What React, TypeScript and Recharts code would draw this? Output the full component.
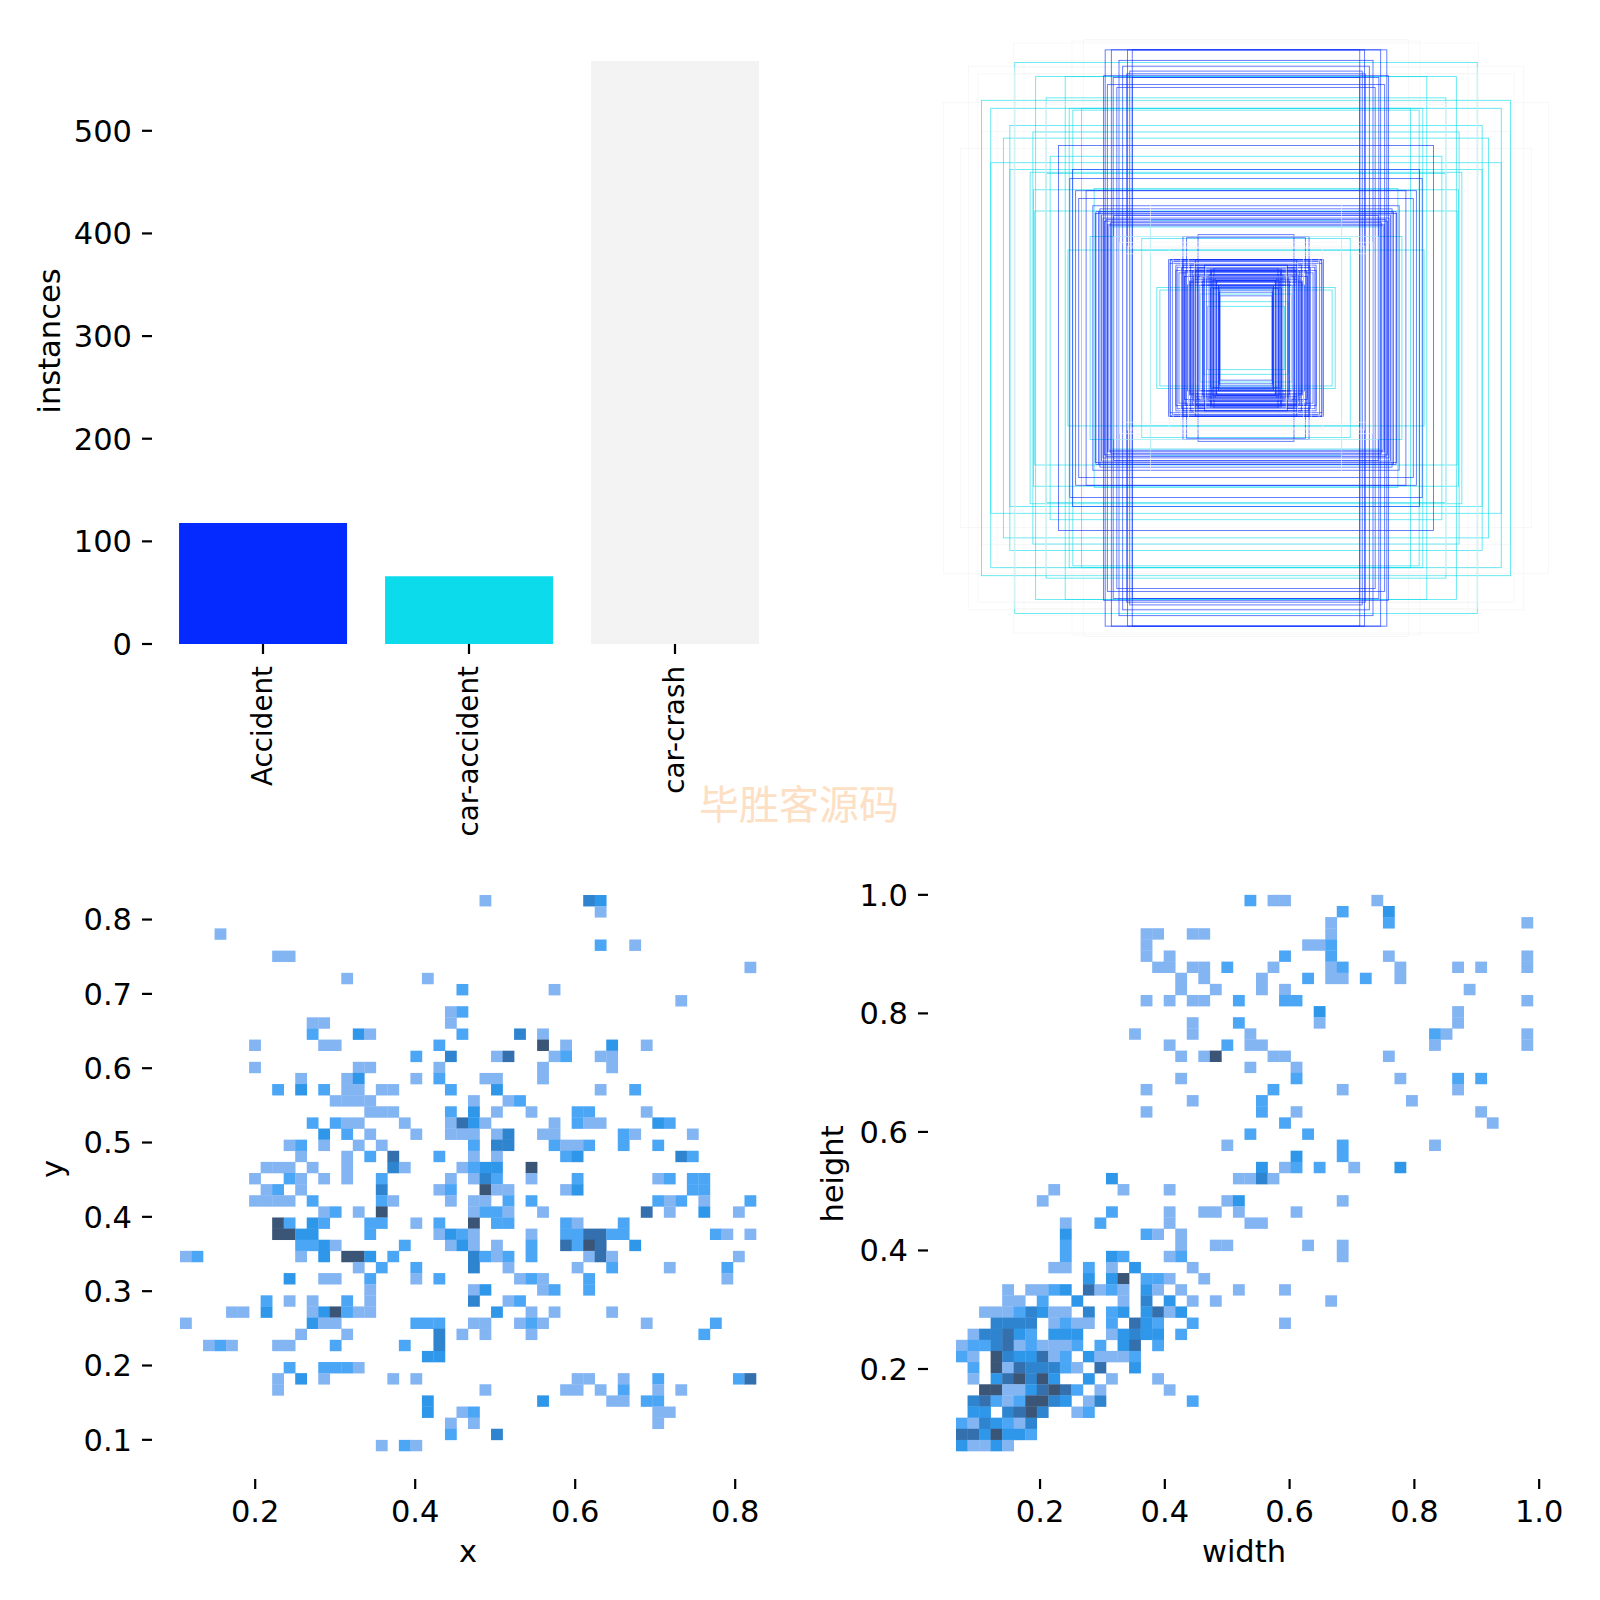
import {
  Bar,
  BarChart,
  Cell,
  Scatter,
  ScatterChart,
  XAxis,
  YAxis,
} from 'recharts';

/* ------------------------------------------------------------------ */
/* Data                                                                */
/* ------------------------------------------------------------------ */

const classNames = ['Accident', 'car-accident', 'car-crash'];
const classCounts = [118, 66, 568];
const classColors = ['#042AFF', '#0BDBEB', '#F3F3F3'];
const countTicks = [0, 100, 200, 300, 400, 500];

// [width, height] of each label box, as a fraction of the image
const cyanBoxes = [
  [0.86, 0.773], [0.83, 0.57], [0.83, 0.747], [0.768, 0.691], [0.789, 0.65], [0.768, 0.548],
  [0.693, 0.67], [0.684, 0.85], [0.588, 0.85], [0.637, 0.591], [0.702, 0.539], [0.691, 0.482],
  [0.687, 0.413], [0.65, 0.535], [0.575, 0.747], [0.563, 0.741], [0.535, 0.747], [0.752, 0.896],
  [0.65, 0.781], [0.507, 0.33], [0.494, 0.486], [0.311, 0.383], [0.339, 0.324], [0.579, 0.286],
  [0.29, 0.164], [0.28, 0.156], [0.149, 0.143], [0.125, 0.103], [0.374, 0.286], [0.436, 0.361],
  [0.137, 0.118],
];
const blueBoxes = [
  [0.458, 0.937], [0.438, 0.937], [0.385, 0.937], [0.37, 0.937], [0.413, 0.903], [0.401, 0.884],
  [0.378, 0.868], [0.463, 0.853], [0.432, 0.847], [0.451, 0.824], [0.42, 0.815], [0.37, 0.847],
  [0.388, 0.859], [0.61, 0.626], [0.564, 0.548], [0.573, 0.519], [0.554, 0.479], [0.544, 0.454],
  [0.52, 0.479], [0.488, 0.411], [0.498, 0.43], [0.43, 0.398], [0.446, 0.365], [0.47, 0.4],
  [0.46, 0.38], [0.45, 0.37], [0.475, 0.42], [0.48, 0.41], [0.49, 0.405], [0.465, 0.39],
  [0.455, 0.385], [0.44, 0.375], [0.156, 0.336], [0.205, 0.33], [0.193, 0.326],
  [0.251, 0.255], [0.239, 0.249], [0.205, 0.237], [0.199, 0.218], [0.187, 0.205], [0.167, 0.224],
  [0.158, 0.199], [0.139, 0.199], [0.115, 0.224], [0.108, 0.187], [0.096, 0.187], [0.087, 0.149],
  [0.249, 0.243], [0.224, 0.23], [0.218, 0.212], [0.181, 0.181], [0.106, 0.162], [0.09, 0.168],
  [0.085, 0.137], [0.175, 0.215], [0.17, 0.19], [0.2, 0.2], [0.107, 0.205], [0.1, 0.195],
  [0.095, 0.185], [0.09, 0.172], [0.087, 0.163], [0.085, 0.156], [0.104, 0.228], [0.112, 0.218],
  [0.12, 0.205], [0.128, 0.195], [0.135, 0.237], [0.142, 0.185], [0.15, 0.172], [0.115, 0.163],
  [0.156, 0.228], [0.163, 0.218], [0.17, 0.205], [0.176, 0.195], [0.18, 0.237], [0.184, 0.185],
  [0.19, 0.172], [0.196, 0.218], [0.205, 0.254], [0.21, 0.228], [0.228, 0.237], [0.245, 0.254],
  [0.25, 0.254], [0.228, 0.22], [0.165, 0.254], [0.14, 0.172],
];
const grayOuterBoxes = [
  [0.984, 0.766], [0.928, 0.616], [0.903, 0.884], [0.872, 0.859], [0.756, 0.959], [0.722, 0.903],
  [0.566, 0.965], [0.529, 0.971], [0.859, 0.672], [0.809, 0.747],
];
// drawn over the cyan sides that the reference does not show
const grayMidBoxes = [
  [0.752, 0.88], [0.752, 0.86], [0.65, 0.77], [0.65, 0.76],
];
const grayInnerBoxes = [
  [0.43, 0.33], [0.411, 0.311], [0.374, 0.293], [0.398, 0.274], [0.386, 0.299], [0.361, 0.28],
  [0.311, 0.436], [0.249, 0.293], [0.212, 0.28], [0.187, 0.261], [0.168, 0.243], [0.131, 0.23],
  [0.237, 0.268], [0.149, 0.199],
];

// 2D histograms: one list per bin row (top to bottom) of [column, count]
const xyRows = [
  [[26, 1], [35, 4], [36, 3]],
  [[36, 1]],
  [],
  [[3, 1]],
  [[36, 2], [39, 1]],
  [[8, 1], [9, 1]],
  [[49, 1]],
  [[14, 1], [21, 1]],
  [[24, 2], [32, 1]],
  [[43, 1]],
  [[23, 1], [24, 2]],
  [[11, 1], [12, 1], [23, 1]],
  [[11, 2], [15, 3], [16, 1], [24, 2], [29, 4], [31, 1]],
  [[6, 1], [12, 1], [13, 1], [22, 2], [31, 6], [33, 1], [37, 3], [40, 1]],
  [[20, 2], [23, 4], [27, 1], [28, 5], [32, 1], [33, 2], [36, 1], [37, 1]],
  [[6, 1], [15, 1], [16, 1], [22, 1], [31, 1], [37, 1]],
  [[10, 1], [14, 1], [15, 3], [20, 1], [22, 2], [26, 1], [27, 1], [31, 1]],
  [[8, 2], [10, 3], [12, 2], [14, 1], [15, 1], [17, 1], [18, 1], [23, 2], [27, 3], [36, 1], [39, 2]],
  [[13, 1], [14, 1], [15, 1], [16, 1], [25, 1], [28, 1], [29, 2]],
  [[16, 1], [17, 1], [18, 1], [23, 2], [25, 3], [27, 1], [30, 1], [34, 2], [35, 2], [40, 1]],
  [[11, 2], [13, 2], [14, 1], [15, 1], [19, 1], [23, 1], [24, 5], [25, 3], [26, 1], [32, 1], [34, 2], [35, 1], [36, 1], [41, 3], [42, 2]],
  [[12, 3], [14, 2], [16, 1], [20, 1], [23, 1], [24, 1], [25, 1], [27, 1], [28, 4], [31, 1], [32, 1], [38, 2], [39, 1], [44, 1]],
  [[9, 1], [10, 2], [12, 1], [15, 1], [17, 1], [25, 2], [27, 4], [28, 4], [32, 2], [33, 1], [34, 1], [35, 2], [38, 2], [41, 2]],
  [[10, 1], [14, 1], [16, 2], [18, 5], [22, 2], [25, 1], [27, 1], [33, 2], [34, 3], [43, 4], [44, 2]],
  [[7, 1], [8, 1], [9, 1], [11, 1], [14, 1], [18, 4], [19, 1], [24, 1], [25, 2], [26, 3], [27, 3], [30, 6]],
  [[6, 1], [9, 2], [10, 1], [12, 1], [14, 1], [17, 2], [23, 1], [25, 1], [26, 4], [27, 2], [30, 1], [34, 2], [41, 1], [42, 2], [44, 2], [45, 2]],
  [[7, 1], [8, 2], [10, 1], [17, 4], [22, 1], [23, 2], [26, 6], [27, 1], [28, 1], [33, 1], [34, 3], [44, 2], [45, 2]],
  [[6, 1], [7, 1], [8, 1], [9, 1], [11, 2], [17, 2], [18, 1], [23, 1], [25, 1], [26, 1], [28, 2], [30, 2], [41, 2], [42, 1], [43, 2], [45, 1], [49, 2]],
  [[12, 1], [13, 2], [15, 1], [17, 6], [25, 1], [26, 2], [27, 2], [28, 1], [31, 1], [40, 5], [42, 1], [45, 3], [48, 1]],
  [[8, 6], [9, 2], [11, 3], [12, 2], [16, 2], [17, 2], [20, 1], [22, 2], [25, 6], [27, 2], [28, 2], [33, 2], [34, 1], [38, 2]],
  [[8, 6], [9, 6], [10, 3], [11, 3], [16, 2], [22, 1], [23, 3], [24, 2], [25, 1], [30, 1], [33, 2], [34, 2], [35, 5], [36, 5], [37, 2], [38, 2], [46, 2], [47, 1], [49, 1]],
  [[10, 2], [11, 2], [12, 3], [13, 1], [19, 2], [23, 1], [24, 3], [25, 1], [27, 1], [30, 2], [33, 5], [34, 2], [35, 6], [36, 5], [39, 3]],
  [[0, 1], [1, 2], [10, 1], [12, 3], [14, 6], [15, 6], [16, 3], [18, 2], [25, 4], [26, 2], [27, 1], [28, 2], [30, 2], [35, 1], [36, 5], [37, 1], [48, 1]],
  [[15, 1], [17, 2], [20, 2], [25, 4], [28, 1], [34, 1], [37, 2], [42, 1], [47, 2]],
  [[9, 3], [12, 1], [13, 1], [16, 2], [20, 1], [22, 2], [29, 1], [30, 2], [31, 1], [35, 2], [47, 1]],
  [[16, 1], [25, 1], [26, 3], [31, 1], [32, 2], [35, 2]],
  [[7, 2], [9, 1], [11, 1], [14, 2], [16, 1], [25, 4], [28, 1], [29, 2]],
  [[4, 1], [5, 1], [7, 3], [11, 1], [12, 3], [13, 6], [14, 2], [15, 1], [16, 1], [27, 3], [30, 1], [32, 1], [37, 1]],
  [[0, 1], [11, 3], [12, 1], [13, 1], [20, 2], [21, 2], [22, 2], [25, 1], [26, 1], [29, 1], [30, 2], [31, 1], [40, 1], [46, 2]],
  [[10, 1], [14, 1], [22, 4], [24, 1], [26, 1], [30, 1], [45, 2]],
  [[2, 1], [3, 2], [4, 1], [8, 1], [9, 1], [13, 2], [19, 2], [22, 4]],
  [[21, 3], [22, 3]],
  [[9, 2], [12, 2], [13, 2], [14, 2], [15, 1]],
  [[8, 1], [10, 3], [12, 1], [18, 1], [20, 1], [34, 1], [35, 1], [38, 1], [41, 2], [48, 2], [49, 5]],
  [[8, 1], [26, 1], [33, 1], [34, 1], [36, 1], [38, 2], [41, 1], [43, 1]],
  [[21, 3], [31, 3], [37, 1], [38, 1], [40, 2], [41, 2]],
  [[21, 3], [24, 1], [25, 2], [41, 1], [42, 1]],
  [[23, 1], [25, 1], [41, 1]],
  [[23, 2], [27, 4]],
  [[17, 1], [19, 2], [20, 1]],
];

const whRows = [
  [[25, 2], [27, 1], [28, 1], [36, 1]],
  [[33, 2], [37, 3]],
  [[32, 1], [37, 2], [49, 1]],
  [[16, 1], [17, 1], [20, 1], [21, 1], [32, 1]],
  [[16, 1], [30, 1], [31, 1], [32, 2]],
  [[16, 1], [18, 1], [28, 2], [32, 2], [37, 1], [49, 1]],
  [[17, 1], [18, 1], [20, 1], [21, 1], [23, 2], [27, 1], [32, 1], [33, 2], [38, 1], [43, 1], [45, 1], [49, 1]],
  [[19, 1], [21, 1], [26, 1], [30, 2], [32, 1], [33, 1], [35, 2], [38, 1]],
  [[19, 1], [22, 1], [26, 1], [28, 1], [44, 1]],
  [[16, 1], [18, 1], [20, 1], [21, 1], [24, 2], [28, 2], [29, 2], [49, 1]],
  [[31, 3], [43, 1]],
  [[20, 1], [24, 2], [31, 1], [43, 1]],
  [[15, 1], [20, 1], [25, 1], [41, 2], [42, 1], [49, 1]],
  [[18, 1], [23, 2], [25, 1], [26, 1], [41, 1], [49, 1]],
  [[19, 1], [21, 1], [22, 6], [27, 1], [28, 1], [37, 1]],
  [[25, 1], [29, 1]],
  [[19, 1], [29, 2], [38, 1], [43, 2], [45, 2]],
  [[16, 1], [27, 2], [33, 1], [43, 1]],
  [[20, 1], [26, 2], [39, 1]],
  [[16, 1], [26, 2], [29, 1], [45, 1]],
  [[28, 2], [46, 1]],
  [[25, 2], [30, 2]],
  [[23, 1], [33, 2], [41, 1]],
  [[29, 3], [33, 2]],
  [[26, 3], [28, 1], [29, 2], [31, 2], [34, 1], [38, 3]],
  [[13, 3], [24, 1], [25, 1], [26, 4], [27, 1]],
  [[8, 1], [14, 1], [18, 1]],
  [[7, 1], [23, 1], [24, 3], [33, 1]],
  [[13, 2], [18, 1], [21, 1], [22, 1], [24, 1], [29, 1]],
  [[9, 1], [12, 2], [18, 1], [25, 1], [26, 1]],
  [[9, 3], [16, 2], [17, 1], [19, 1]],
  [[9, 2], [19, 1], [22, 1], [23, 1], [30, 1], [33, 1]],
  [[9, 2], [13, 3], [14, 2], [18, 1], [19, 2], [33, 1]],
  [[8, 1], [9, 1], [11, 2], [13, 1], [15, 3], [20, 1]],
  [[11, 3], [13, 3], [14, 6], [16, 2], [17, 2], [18, 1], [21, 1]],
  [[4, 1], [6, 1], [7, 1], [8, 2], [9, 3], [11, 5], [12, 1], [13, 2], [14, 1], [16, 3], [17, 1], [19, 1], [24, 1], [28, 1]],
  [[4, 1], [5, 1], [7, 2], [10, 3], [14, 1], [16, 4], [18, 3], [20, 1], [22, 1], [32, 1]],
  [[2, 1], [3, 1], [4, 1], [5, 2], [6, 4], [7, 3], [8, 1], [9, 1], [11, 4], [13, 2], [14, 3], [16, 3], [17, 5], [18, 1], [19, 3]],
  [[3, 4], [4, 4], [5, 4], [6, 4], [8, 1], [9, 2], [10, 1], [11, 1], [13, 2], [15, 5], [16, 3], [17, 2], [20, 2], [28, 1]],
  [[1, 1], [2, 4], [3, 4], [4, 5], [5, 3], [6, 2], [8, 3], [9, 3], [10, 3], [13, 1], [14, 3], [15, 4], [16, 3], [17, 3], [19, 2]],
  [[0, 1], [1, 2], [2, 2], [3, 4], [4, 5], [5, 1], [6, 2], [7, 1], [8, 1], [9, 1], [10, 2], [12, 2], [14, 3], [15, 5], [17, 2]],
  [[0, 2], [1, 1], [3, 6], [4, 4], [5, 3], [6, 3], [7, 5], [8, 1], [9, 2], [11, 3], [12, 1], [13, 1], [14, 1], [15, 2]],
  [[1, 2], [3, 6], [4, 1], [5, 5], [6, 4], [7, 4], [8, 4], [9, 2], [10, 1], [12, 5], [15, 3]],
  [[1, 1], [3, 3], [4, 5], [5, 6], [6, 4], [7, 6], [8, 3], [11, 3], [13, 1], [17, 1]],
  [[2, 6], [3, 6], [4, 1], [5, 1], [6, 3], [7, 5], [8, 6], [9, 5], [10, 2], [12, 1], [18, 1]],
  [[1, 4], [2, 5], [3, 2], [4, 1], [5, 2], [6, 6], [7, 6], [8, 4], [9, 3], [11, 1], [12, 4], [20, 2]],
  [[1, 3], [2, 3], [4, 4], [5, 5], [6, 6], [7, 4], [10, 1], [11, 2]],
  [[0, 2], [1, 1], [2, 4], [3, 3], [4, 2], [5, 1], [6, 4]],
  [[0, 5], [1, 5], [2, 3], [3, 6], [4, 3], [5, 3], [6, 2]],
  [[0, 3], [1, 1], [2, 1], [3, 3], [4, 1]],
];

// shade per bin count, index 0 unused
const countColors = ['#FFFFFF', '#84B5F3', '#4BA6F6', '#2F97E9', '#2E84CF', '#3470AE', '#3B5576'];

const xyBinsX = [0.106, 0.826];
const xyBinsY = [0.833, 0.085];
const whBinsX = [0.0653, 0.99];
const whBinsY = [1.0, 0.0616];

const xTicks = [0.2, 0.4, 0.6, 0.8];
const yTicks = [0.1, 0.2, 0.3, 0.4, 0.5, 0.6, 0.7, 0.8];
const widthTicks = [0.2, 0.4, 0.6, 0.8, 1.0];
const heightTicks = [0.2, 0.4, 0.6, 0.8, 1.0];

/* ------------------------------------------------------------------ */
/* Helpers                                                             */
/* ------------------------------------------------------------------ */

const FONT = '"DejaVu Sans", sans-serif';
const FONT_SIZE = 30.5;
const TICK = { fontSize: FONT_SIZE, fontFamily: FONT, fill: '#000' };
const TICK_LINE = { stroke: '#000', strokeWidth: 2.2 };
const BIN_COUNT = 50;
const HIST_W = 800;
const HIST_H = 760;
const HIST_TOP = 27;
const HIST_AXIS_H = 121;
const BOX_PLOT = 615;

const formatTick = (v: number) => v.toFixed(1);

// x, y are the text baseline middle in page coordinates
function AxisTitle({ x, y, text, vertical }: { x: number; y: number; text: string; vertical?: boolean }) {
  return (
    <text
      x={x}
      y={y}
      textAnchor="middle"
      fontSize={FONT_SIZE}
      fontFamily={FONT}
      fill="#000"
      transform={vertical ? `rotate(-90 ${x} ${y})` : undefined}
    >
      {text}
    </text>
  );
}

function ClassTick({ x, y, payload }: any) {
  return (
    <text
      transform={`translate(${x + 9} ${y}) rotate(-90)`}
      textAnchor="end"
      fontSize={27.8}
      fontFamily={FONT}
      fill="#000"
    >
      {payload.value}
    </text>
  );
}

function histCells(rows: number[][][], binsX: number[], binsY: number[]) {
  const stepX = (binsX[1] - binsX[0]) / BIN_COUNT;
  const stepY = (binsY[1] - binsY[0]) / BIN_COUNT;
  return rows.flatMap((row, r) =>
    row.map(([col, count]) => ({
      x: binsX[0] + (col + 0.5) * stepX,
      y: binsY[0] + (r + 0.5) * stepY,
      count,
    })),
  );
}

const toBoxes = (boxes: number[][]) => boxes.map(([w, h]) => ({ x: 0, y: 0, w, h }));

function boxShape(color: string) {
  return ({ cx, cy, payload }: any) => {
    const w = payload.w * BOX_PLOT;
    const h = payload.h * BOX_PLOT;
    return (
      <rect
        x={cx - w / 2}
        y={cy - h / 2}
        width={w}
        height={h}
        fill="none"
        stroke={color}
        strokeWidth={0.8}
        strokeOpacity={0.75}
      />
    );
  };
}

/* ------------------------------------------------------------------ */
/* Panels                                                              */
/* ------------------------------------------------------------------ */

const classData = classNames.map((name, i) => ({ name, count: classCounts[i] }));

function ClassBars() {
  return (
    <BarChart
      width={800}
      height={860}
      data={classData}
      margin={{ top: 61, right: 14, bottom: 0, left: 0 }}
      barCategoryGap="9.25%"
    >
      <XAxis
        dataKey="name"
        height={216}
        axisLine={false}
        tickLine={TICK_LINE}
        tickSize={10}
        tickMargin={12}
        interval={0}
        padding={{ left: 8, right: 8 }}
        tick={<ClassTick />}
      />
      <YAxis
        width={152}
        domain={[0, 568]}
        ticks={countTicks}
        axisLine={false}
        tickLine={TICK_LINE}
        tickSize={10}
        tickMargin={10}
        tick={TICK}
      />
      <Bar dataKey="count" isAnimationActive={false}>
        {classData.map((d, i) => (
          <Cell key={d.name} fill={classColors[i]} />
        ))}
      </Bar>
    </BarChart>
  );
}

function LabelBoxes() {
  return (
    <ScatterChart width={700} height={680} margin={{ top: 30.5, right: 46.5, bottom: 34.5, left: 38.5 }}>
      <XAxis type="number" dataKey="x" domain={[-0.5, 0.5]} hide />
      <YAxis type="number" dataKey="y" domain={[-0.5, 0.5]} hide />
      <Scatter data={toBoxes(grayOuterBoxes)} shape={boxShape(classColors[2])} isAnimationActive={false} />
      <Scatter data={toBoxes(cyanBoxes)} shape={boxShape(classColors[1])} isAnimationActive={false} />
      <Scatter data={toBoxes(grayMidBoxes)} shape={boxShape(classColors[2])} isAnimationActive={false} />
      <Scatter data={toBoxes(blueBoxes)} shape={boxShape(classColors[0])} isAnimationActive={false} />
      <Scatter data={toBoxes(grayInnerBoxes)} shape={boxShape(classColors[2])} isAnimationActive={false} />
    </ScatterChart>
  );
}

function Hist({ rows, binsX, binsY, domainX, domainY, ticksX, ticksY, axisWidth, marginRight }: any) {
  const plotW = HIST_W - axisWidth - marginRight;
  const plotH = HIST_H - HIST_TOP - HIST_AXIS_H;
  const cellW = (plotW / (domainX[1] - domainX[0])) * Math.abs(binsX[1] - binsX[0]) / BIN_COUNT;
  const cellH = (plotH / (domainY[1] - domainY[0])) * Math.abs(binsY[1] - binsY[0]) / BIN_COUNT;
  const CellRect = ({ cx, cy, payload }: any) => (
    <rect
      x={cx - cellW / 2}
      y={cy - cellH / 2}
      width={cellW + 0.3}
      height={cellH + 0.3}
      fill={countColors[payload.count]}
    />
  );
  return (
    <ScatterChart width={HIST_W} height={HIST_H} margin={{ top: HIST_TOP, right: marginRight, bottom: 0, left: 0 }}>
      <XAxis
        type="number"
        dataKey="x"
        domain={domainX}
        ticks={ticksX}
        interval={0}
        height={HIST_AXIS_H}
        axisLine={false}
        tickLine={TICK_LINE}
        tickSize={10}
        tickMargin={11}
        tickFormatter={formatTick}
        tick={TICK}
      />
      <YAxis
        type="number"
        dataKey="y"
        domain={domainY}
        ticks={ticksY}
        interval={0}
        width={axisWidth}
        axisLine={false}
        tickLine={TICK_LINE}
        tickSize={10}
        tickMargin={10}
        tickFormatter={formatTick}
        tick={TICK}
      />
      <Scatter data={histCells(rows, binsX, binsY)} shape={CellRect} isAnimationActive={false} />
    </ScatterChart>
  );
}

/* ------------------------------------------------------------------ */
/* App                                                                 */
/* ------------------------------------------------------------------ */

export default function App() {
  const place = (left: number, top: number) => ({ position: 'absolute' as const, left, top });
  return (
    <div style={{ position: 'absolute', left: 0, top: 0, width: 1600, height: 1600, background: '#fff' }}>
      <div style={place(0, 0)}>
        <ClassBars />
      </div>
      <div style={place(900, 0)}>
        <LabelBoxes />
      </div>
      <div style={place(0, 840)}>
        <Hist
          rows={xyRows}
          binsX={xyBinsX}
          binsY={xyBinsY}
          domainX={[0.071, 0.861]}
          domainY={[0.0473, 0.8707]}
          ticksX={xTicks}
          ticksY={yTicks}
          axisWidth={152}
          marginRight={16}
        />
      </div>
      <div style={place(800, 840)}>
        <Hist
          rows={whRows}
          binsX={whBinsX}
          binsY={whBinsY}
          domainX={[0.0204, 1.035]}
          domainY={[0.0144, 1.047]}
          ticksX={widthTicks}
          ticksY={heightTicks}
          axisWidth={128}
          marginRight={39}
        />
      </div>
      <svg width={1600} height={1600} style={{ ...place(0, 0), pointerEvents: 'none' }}>
        <AxisTitle x={59.7} y={341} text="instances" vertical />
        <AxisTitle x={62.5} y={1169} text="y" vertical />
        <AxisTitle x={843} y={1174} text="height" vertical />
        <AxisTitle x={468} y={1562} text="x" />
        <AxisTitle x={1244} y={1562} text="width" />
      </svg>
      <div
        style={{
          ...place(699, 778),
          width: 200,
          textAlign: 'center',
          fontFamily: '"Noto Sans CJK SC", sans-serif',
          fontSize: 40,
          lineHeight: '48px',
          color: '#FDE0C4',
          whiteSpace: 'nowrap',
        }}
      >
        毕胜客源码
      </div>
    </div>
  );
}
